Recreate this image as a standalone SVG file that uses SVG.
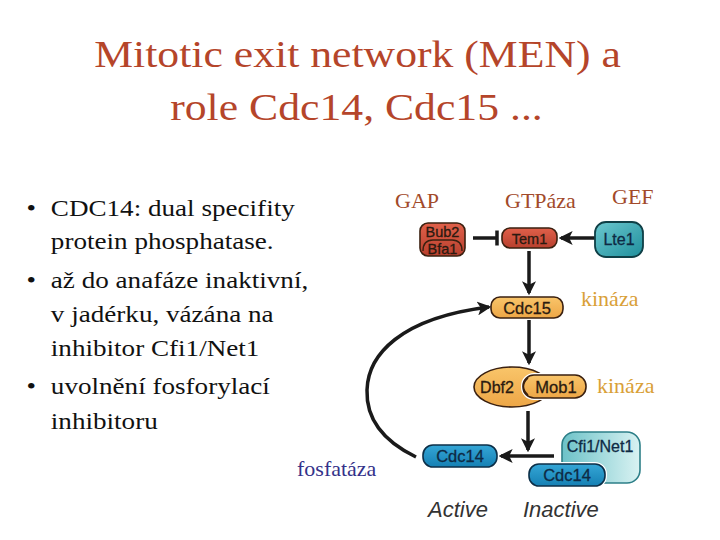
<svg xmlns="http://www.w3.org/2000/svg" width="720" height="540" viewBox="0 0 720 540">
<style>
.title{font-family:"Liberation Serif","Times New Roman",serif;font-size:38px;fill:#b5452a}
.bul{font-family:"Liberation Serif","Times New Roman",serif;font-size:24px;fill:#111}
.lab{font-family:"Liberation Serif","Times New Roman",serif;font-size:22px}
.gap{fill:#a24a2a}
.kin{fill:#d9a038}
.fos{fill:#34328a}
.nt{font-family:"Liberation Sans",Arial,sans-serif;font-size:16.5px;text-anchor:middle;fill:#2a1a10;stroke:#2a1a10;stroke-width:0.3}
.ntb{font-family:"Liberation Sans",Arial,sans-serif;font-size:16.5px;text-anchor:middle;fill:#0e2a44;stroke:#0e2a44;stroke-width:0.3}
.st{font-family:"Liberation Sans",Arial,sans-serif;font-size:22px;font-style:italic;fill:#333}
.edge{stroke:#1a1a1a;stroke-width:3.5;fill:none}
.ol{stroke:#3a2010;stroke-width:1.6}
.olb{stroke:#0c2f48;stroke-width:1.6}
</style>
<defs>
<marker id="ah" viewBox="0 0 12 12" refX="10" refY="6" markerWidth="4" markerHeight="4" markerUnits="strokeWidth" orient="auto">
<path d="M0,0 L12,6 L0,12 L3,6 z" fill="#1a1a1a"/>
</marker>
<linearGradient id="gred" x1="0" y1="0" x2="0" y2="1"><stop offset="0" stop-color="#e0604a"/><stop offset="1" stop-color="#b8402e"/></linearGradient>
<linearGradient id="gteal" x1="0" y1="0" x2="1" y2="1"><stop offset="0" stop-color="#6cc8cf"/><stop offset="1" stop-color="#1f8f9c"/></linearGradient>
<linearGradient id="gor" x1="0" y1="0" x2="0" y2="1"><stop offset="0" stop-color="#f9c56a"/><stop offset="1" stop-color="#eda646"/></linearGradient>
<linearGradient id="gblue" x1="0" y1="0" x2="0" y2="1"><stop offset="0" stop-color="#35a6d6"/><stop offset="1" stop-color="#1580b4"/></linearGradient>
<linearGradient id="gcfi" x1="1" y1="0.5" x2="0" y2="0.5"><stop offset="0" stop-color="#d9f2f2"/><stop offset="1" stop-color="#6cc2c8"/></linearGradient>
</defs>
<rect width="720" height="540" fill="#fff"/>

<g id="title" transform="scale(1.15,1)">
<text class="title" x="310.9" y="67" text-anchor="middle">Mitotic exit network (MEN) a</text>
<text class="title" x="310" y="120" text-anchor="middle">role Cdc14, Cdc15 ...</text>
</g>

<g id="bullets" transform="scale(1.13,1)">
<text class="bul" x="23.5" y="216">•</text>
<text class="bul" x="45" y="216">CDC14: dual specifity</text>
<text class="bul" x="45" y="249">protein phosphatase.</text>
<text class="bul" x="23.5" y="288">•</text>
<text class="bul" x="45" y="288">až do anafáze inaktivní,</text>
<text class="bul" x="45" y="322">v jadérku, vázána na</text>
<text class="bul" x="45" y="356">inhibitor Cfi1/Net1</text>
<text class="bul" x="23.5" y="394">•</text>
<text class="bul" x="45" y="394">uvolnění fosforylací</text>
<text class="bul" x="45" y="429">inhibitoru</text>
</g>

<g id="labels">
<text class="lab gap" x="395" y="208">GAP</text>
<text class="lab gap" x="505" y="208">GTPáza</text>
<text class="lab gap" x="612" y="204">GEF</text>
<text class="lab kin" x="581" y="306">kináza</text>
<text class="lab kin" x="597" y="393">kináza</text>
<text class="lab fos" x="297" y="476">fosfatáza</text>
<text class="st" x="428" y="517">Active</text>
<text class="st" x="523" y="517">Inactive</text>
</g>

<g id="connectors">
<path class="edge" d="M473 238 L496 238"/>
<path class="edge" d="M497 230.5 L497 245.5"/>
<path class="edge" d="M595 238 L561 238" marker-end="url(#ah)"/>
<path class="edge" d="M529 251 L529 293" marker-end="url(#ah)"/>
<path class="edge" d="M529 320 L529 363" marker-end="url(#ah)"/>
<path class="edge" d="M528 411 L528 450" marker-end="url(#ah)"/>
<path class="edge" d="M554 456 L501 456" marker-end="url(#ah)"/>
<path class="edge" d="M416 457 C385 442 366 420 367 390 C368 355 400 318 489 307" marker-end="url(#ah)"/>
</g>

<g id="node-bub2-bfa1">
<rect x="420" y="223" width="45" height="33" rx="8" fill="url(#gred)" class="ol"/>
<path d="M423 251 Q423 240 433 240 L452 240 Q462 240 462 251" fill="none" stroke="#3a2010" stroke-width="1.4"/>
<text class="nt" x="442.5" y="237" style="font-size:14.5px">Bub2</text>
<text class="nt" x="442.5" y="253.5" style="font-size:14.5px">Bfa1</text>
</g>

<g id="node-tem1">
<rect x="502" y="228" width="55" height="20" rx="8" fill="url(#gred)" class="ol"/>
<text class="nt" x="529.5" y="243.5" style="font-size:14.5px">Tem1</text>
</g>

<g id="node-lte1">
<rect x="595" y="222" width="48" height="35" rx="11" fill="url(#gteal)" stroke="#0f3f46" stroke-width="1.8"/>
<text class="ntb" x="619" y="245" style="font-size:16px">Lte1</text>
</g>

<g id="node-cdc15">
<rect x="491" y="297" width="72" height="21" rx="9" fill="url(#gor)" class="ol"/>
<text class="nt" x="527" y="313.5">Cdc15</text>
</g>

<g id="node-dbf2-mob1">
<ellipse cx="512" cy="387" rx="38" ry="20" fill="url(#gor)" class="ol"/>
<rect x="523" y="375" width="63" height="23" rx="11" fill="url(#gor)" stroke="#fff" stroke-width="4"/>
<rect x="523" y="375" width="63" height="23" rx="11" fill="url(#gor)" class="ol"/>
<path d="M528 378 Q519 386.5 528 395" fill="none" stroke="#3a2010" stroke-width="1.4"/>
<text class="nt" x="497" y="392.5" style="font-size:16px">Dbf2</text>
<text class="nt" x="556" y="392.5">Mob1</text>
</g>

<g id="node-cdc14-active">
<rect x="423" y="445" width="74" height="22" rx="10" fill="url(#gblue)" class="olb"/>
<text class="ntb" x="460" y="462">Cdc14</text>
</g>

<g id="node-cfi1-cdc14-inactive">
<rect x="562" y="432" width="78" height="51" rx="13" fill="url(#gcfi)" stroke="#2d7f88" stroke-width="1.6"/>
<text class="ntb" x="600" y="452" style="font-size:16px">Cfi1/Net1</text>
<rect x="529" y="464" width="76" height="22" rx="10" fill="url(#gblue)" stroke="#fff" stroke-width="4"/>
<rect x="529" y="464" width="76" height="22" rx="10" fill="url(#gblue)" class="olb"/>
<text class="ntb" x="567" y="481">Cdc14</text>
</g>
</svg>
